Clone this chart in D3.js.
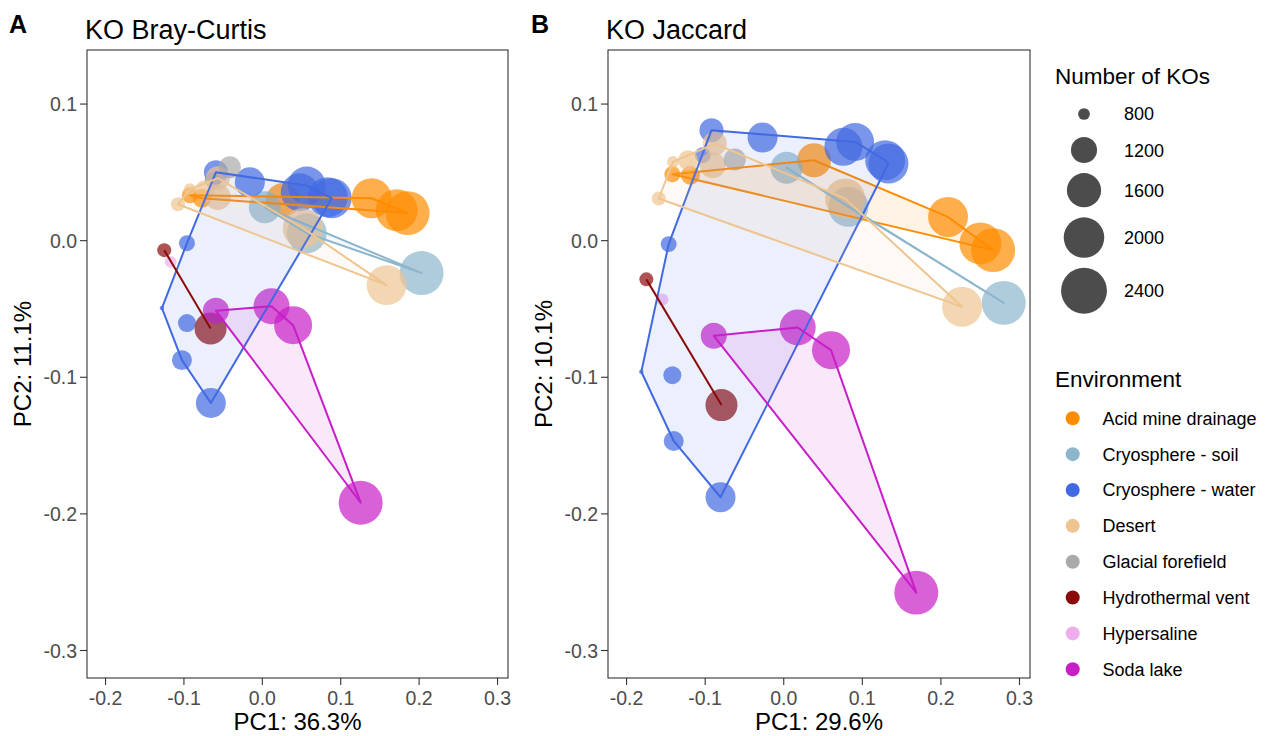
<!DOCTYPE html>
<html>
<head>
<meta charset="utf-8">
<script src="https://cdn.jsdelivr.net/npm/d3@7"></script>
<style>
  html, body { margin: 0; padding: 0; background: #fff; }
  svg { display: block; font-family: "Liberation Sans", Arial, Helvetica, sans-serif; }
</style>
</head>
<body>
<svg id="chart" width="1266" height="736"></svg>
<script>
// ---------------- data ----------------
const environments = ["Acid mine drainage", "Cryosphere - soil", "Cryosphere - water", "Desert",
  "Glacial forefield", "Hydrothermal vent", "Hypersaline", "Soda lake"];
const envColors = ["#FF8C00", "#8DB6CD", "#4169E1", "#EEC591", "#A9A9A9", "#8B0A0A", "#EEAEEE", "#C81EC8"];

const sampleEnv = [
  "Acid mine drainage", "Acid mine drainage", "Acid mine drainage", "Acid mine drainage", "Acid mine drainage", "Acid mine drainage",
  "Cryosphere - soil", "Cryosphere - soil", "Cryosphere - soil",
  "Cryosphere - water", "Cryosphere - water", "Cryosphere - water", "Cryosphere - water", "Cryosphere - water", "Cryosphere - water",
  "Cryosphere - water", "Cryosphere - water", "Cryosphere - water", "Cryosphere - water", "Cryosphere - water", "Cryosphere - water",
  "Desert", "Desert", "Desert", "Desert", "Desert", "Desert", "Desert",
  "Glacial forefield",
  "Hydrothermal vent", "Hydrothermal vent",
  "Hypersaline",
  "Soda lake", "Soda lake", "Soda lake", "Soda lake"
];
const sampleKOs = [
  880, 950, 1590, 1960, 2100, 2250,
  1480, 1960, 2250,
  1116, 1376, 1830, 1830, 1960, 1960, 877, 750, 925, 980, 1376, 877,
  804, 837, 980, 1116, 1195, 1960, 1960,
  1045,
  837, 1480,
  804,
  1195, 1705, 1830, 2250
];
// Bray-Curtis PCoA
const bcPC1 = [
  -0.0917, -0.0764, 0.0268, 0.1401, 0.1720, 0.1860,
  0.0038, 0.0573, 0.2038,
  -0.0586, -0.0153, 0.0484, 0.0573, 0.0841, 0.0892, -0.0955, -0.1274, -0.0955, -0.1019, -0.0650, -0.0624,
  -0.0917, -0.1070, -0.0726, -0.0561, -0.0561, 0.0522, 0.1592,
  -0.0408,
  -0.1245, -0.0654,
  -0.1163,
  -0.0586, 0.0124, 0.0399, 0.1261
];
const bcPC2 = [
  0.0329, 0.0307, 0.0293, 0.0307, 0.0219, 0.0198,
  0.0241, 0.0051, -0.0241,
  0.0497, 0.0424, 0.0351, 0.0400, 0.0315, 0.0307, -0.0022, -0.0497, -0.0607, -0.0878, -0.1192, 0.0439,
  0.0373, 0.0263, 0.0366, 0.0454, 0.0315, 0.0088, -0.0329,
  0.0534,
  -0.0073, -0.0646,
  -0.0159,
  -0.0517, -0.0483, -0.0622, -0.1922
];
// Jaccard PCoA
const jacPC1 = [
  -0.1411, -0.1181, 0.0392, 0.2097, 0.2509, 0.2671,
  0.0043, 0.0829, 0.2806,
  -0.0913, -0.0263, 0.0765, 0.0915, 0.1297, 0.1339, -0.1458, -0.1806, -0.1411, -0.1394, -0.0798, -0.1024,
  -0.1403, -0.1585, -0.1212, -0.0871, -0.0897, 0.0787, 0.2276,
  -0.0616,
  -0.1742, -0.0786,
  -0.1538,
  -0.0884, 0.0184, 0.0608, 0.1693
];
const jacPC2 = [
  0.0483, 0.0475, 0.0585, 0.0170, -0.0024, -0.0073,
  0.0530, 0.0244, -0.0459,
  0.0805, 0.0751, 0.0683, 0.0719, 0.0585, 0.0561, -0.0029, -0.0963, -0.0988, -0.1470, -0.1882, 0.0622,
  0.0573, 0.0305, 0.0585, 0.0707, 0.0549, 0.0305, -0.0488,
  0.0590,
  -0.0287, -0.1207,
  -0.0434,
  -0.0700, -0.0639, -0.0805, -0.2580
];
const xTicks = [-0.2, -0.1, 0.0, 0.1, 0.2, 0.3];
const yTicks = [0.1, 0.0, -0.1, -0.2, -0.3];
const sizeBreaks = [800, 1200, 1600, 2000, 2400];
const panelTags = ["A", "B"];
const panelTitles = ["KO Bray-Curtis", "KO Jaccard"];
const xTitles = ["PC1: 36.3%", "PC1: 29.6%"];
const yTitles = ["PC2: 11.1%", "PC2: 10.1%"];

// ---------------- drawing ----------------
const svg = d3.select("#chart");
const FONT_AXIS = 19.5, FONT_AXTITLE = 24, FONT_TITLE = 27;
const color = d3.scaleOrdinal().domain(environments).range(envColors);

// bubble size: diameter = a + b*sqrt(value - min), like ggplot's area palette
const koMin = 750;
const sizeCore = d3.scaleSqrt().domain([0, 1650]).range([0, 20.7]);
const radius = v => 2.25 + sizeCore(Math.max(0, v - koMin));

const xDomain = [-0.223, 0.314];
const yDomain = [-0.3205, 0.1392];

const panels = [
  { left: 87, right: 508, top: 50, bottom: 678, pc1: bcPC1, pc2: bcPC2, tagX: 9, yTitleX: 31 },
  { left: 608, right: 1030, top: 50, bottom: 678, pc1: jacPC1, pc2: jacPC2, tagX: 531, yTitleX: 552 }
];

panels.forEach((p, pi) => {
  const x = d3.scaleLinear().domain(xDomain).range([p.left, p.right]);
  const y = d3.scaleLinear().domain(yDomain).range([p.bottom, p.top]);
  const g = svg.append("g");

  const pts = sampleEnv.map((e, i) => ({ env: e, ko: sampleKOs[i], px: x(p.pc1[i]), py: y(p.pc2[i]) }));

  const clipId = "clip" + pi;
  svg.append("clipPath").attr("id", clipId).append("rect")
    .attr("x", p.left).attr("y", p.top).attr("width", p.right - p.left).attr("height", p.bottom - p.top);
  const plot = g.append("g").attr("clip-path", `url(#${clipId})`);

  // points
  plot.append("g").selectAll("circle").data(pts).join("circle")
    .attr("cx", d => d.px).attr("cy", d => d.py)
    .attr("r", d => radius(d.ko))
    .attr("fill", d => color(d.env))
    .attr("fill-opacity", 0.7);

  // hulls
  const hullG = plot.append("g");
  environments.forEach(env => {
    const gp = pts.filter(d => d.env === env).map(d => [d.px, d.py]);
    if (gp.length >= 3) {
      const hull = d3.polygonHull(gp);
      hullG.append("path")
        .attr("d", "M" + hull.map(q => q.join(",")).join("L") + "Z")
        .attr("fill", color(env)).attr("fill-opacity", 0.1)
        .attr("stroke", color(env)).attr("stroke-width", 2).attr("stroke-linejoin", "round");
    } else if (gp.length === 2) {
      hullG.append("path")
        .attr("d", "M" + gp.map(q => q.join(",")).join("L"))
        .attr("fill", "none")
        .attr("stroke", color(env)).attr("stroke-width", 2);
    }
  });

  // border
  g.append("rect").attr("x", p.left).attr("y", p.top)
    .attr("width", p.right - p.left).attr("height", p.bottom - p.top)
    .attr("fill", "none").attr("stroke", "#333333").attr("stroke-width", 1.1);

  // axes
  const fmt = d => d.toFixed(1);
  const xa = g.append("g").attr("transform", `translate(0,${p.bottom})`)
    .call(d3.axisBottom(x).tickValues(xTicks).tickFormat(fmt).tickSize(7).tickSizeOuter(0));
  xa.select(".domain").remove();
  xa.selectAll(".tick line").attr("stroke", "#333333").attr("stroke-width", 1.1);
  xa.selectAll(".tick text").attr("y", 27).attr("dy", null)
    .attr("fill", "#4D4D4D").attr("font-size", FONT_AXIS).attr("font-family", null);

  const ya = g.append("g").attr("transform", `translate(${p.left},0)`)
    .call(d3.axisLeft(y).tickValues(yTicks).tickFormat(fmt).tickSize(7).tickSizeOuter(0));
  ya.select(".domain").remove();
  ya.selectAll(".tick line").attr("stroke", "#333333").attr("stroke-width", 1.1);
  ya.selectAll(".tick text").attr("x", -10).attr("dy", "0.37em")
    .attr("fill", "#4D4D4D").attr("font-size", FONT_AXIS).attr("font-family", null);

  // titles
  g.append("text").attr("x", (p.left + p.right) / 2).attr("y", 730)
    .attr("text-anchor", "middle").attr("font-size", FONT_AXTITLE).attr("fill", "#000")
    .text(xTitles[pi]);
  g.append("text").attr("transform", `translate(${p.yTitleX},${(p.top + p.bottom) / 2}) rotate(-90)`)
    .attr("text-anchor", "middle").attr("font-size", FONT_AXTITLE).attr("fill", "#000")
    .text(yTitles[pi]);
  g.append("text").attr("x", p.left - 2).attr("y", 39)
    .attr("font-size", FONT_TITLE).attr("fill", "#000").text(panelTitles[pi]);
  g.append("text").attr("x", p.tagX).attr("y", 33)
    .attr("font-size", 25).attr("font-weight", "bold").attr("fill", "#000").text(panelTags[pi]);
});

// ---------------- legends ----------------
const lg = svg.append("g");
const legX = 1055;
lg.append("text").attr("x", legX).attr("y", 84).attr("font-size", 22.5).attr("fill", "#000").text("Number of KOs");
let cy = 96;
sizeBreaks.forEach(v => {
  const r = radius(v);
  const h = Math.max(36, 2 * r + 10);
  const c = cy + h / 2;
  lg.append("circle").attr("cx", 1084).attr("cy", c).attr("r", r).attr("fill", "#000").attr("fill-opacity", 0.7);
  lg.append("text").attr("x", 1124).attr("y", c).attr("dy", "0.36em").attr("font-size", 18).attr("fill", "#000").text(v);
  cy += h;
});

lg.append("text").attr("x", legX).attr("y", 387).attr("font-size", 22.5).attr("fill", "#000").text("Environment");
environments.forEach((env, i) => {
  const c = 418.3 + i * 35.85;
  lg.append("circle").attr("cx", 1072.7).attr("cy", c).attr("r", 7).attr("fill", color(env));
  lg.append("text").attr("x", 1102.5).attr("y", c).attr("dy", "0.36em").attr("font-size", 18).attr("fill", "#000").text(env);
});
</script>
</body>
</html>
